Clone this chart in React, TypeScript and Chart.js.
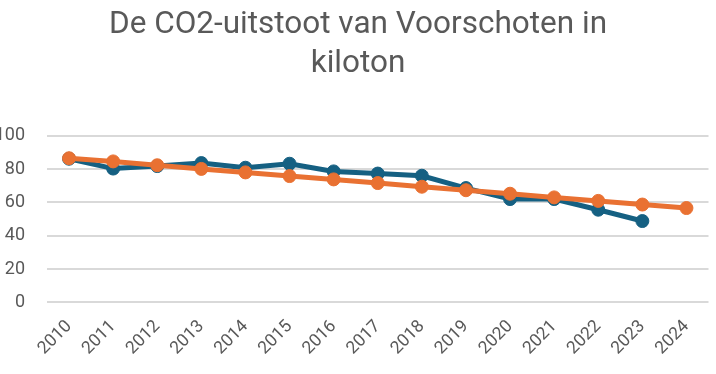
import React, { useEffect, useRef } from "react";
import { Chart, registerables } from "chart.js";

Chart.register(...registerables);

const years = ["2010","2011","2012","2013","2014","2015","2016","2017","2018","2019","2020","2021","2022","2023","2024"];
const emissions = [86.2, 80.3, 81.8, 83.6, 80.8, 83.2, 78.6, 77.3, 76.0, 68.6, 62.0, 62.0, 55.6, 48.8, null];
const trend = [86.5, 84.6, 82.3, 80.1, 78.0, 75.8, 73.8, 71.6, 69.4, 67.3, 65.2, 63.0, 60.9, 58.7, 56.6];
const titleLines = ["De CO2-uitstoot van Voorschoten in", "kiloton"];
const yTicks = { min: 0, max: 100, step: 20 };

export default function App() {
  const ref = useRef<HTMLCanvasElement>(null);
  useEffect(() => {
    if (!ref.current) return;
    const chart = new Chart(ref.current, {
      type: "line",
      data: {
        labels: years,
        datasets: [
          {
            label: "CO2-uitstoot",
            data: emissions,
            borderColor: "#156082",
            backgroundColor: "#156082",
            borderWidth: 5,
            pointRadius: 6.5,
            pointBorderWidth: 1,
            pointBackgroundColor: "#156082",
            pointBorderColor: "#156082",
            order: 1,
          },
          {
            label: "Trend",
            data: trend,
            borderColor: "#E97132",
            backgroundColor: "#E97132",
            borderWidth: 5,
            pointRadius: 6.5,
            pointBorderWidth: 1,
            pointBackgroundColor: "#E97132",
            pointBorderColor: "#E97132",
            order: 0,
          },
        ],
      },
      options: {
        animation: false,
        responsive: false,
        maintainAspectRatio: false,
        layout: { padding: { left: 0, right: -4, top: 0, bottom: 9 } },
        plugins: {
          legend: { display: false },
          tooltip: { enabled: false },
          title: {
            display: true,
            text: titleLines,
            color: "#595959",
            font: { family: "Roboto", size: 31.5, weight: "normal", lineHeight: 1.25 },
            padding: { top: 5, bottom: 52 },
          },
        },
        scales: {
          x: {
            offset: true,
            grid: { display: false },
            border: { display: false },
            afterFit: (s: any) => {
              s.paddingLeft = 0;
              s.paddingRight = 7;
            },
            ticks: {
              color: "#595959",
              font: { family: "Roboto", size: 17.5 },
              minRotation: 45,
              maxRotation: 45,
              padding: 6,
            },
          },
          y: {
            min: yTicks.min,
            max: yTicks.max,
            grid: { color: "#D9D9D9", lineWidth: 2, drawTicks: false },
            border: { display: false },
            afterFit: (s: any) => {
              s.width = 51;
            },
            ticks: {
              stepSize: yTicks.step,
              color: "#595959",
              font: { family: "Roboto", size: 18 },
              padding: 22,
            },
          },
        },
      },
    });
    return () => chart.destroy();
  }, []);
  return (
    <div style={{ position: "fixed", left: -4, top: 0, width: 720, height: 374 }}>
      <canvas ref={ref} width={720} height={374} style={{ display: "block" }} />
    </div>
  );
}
